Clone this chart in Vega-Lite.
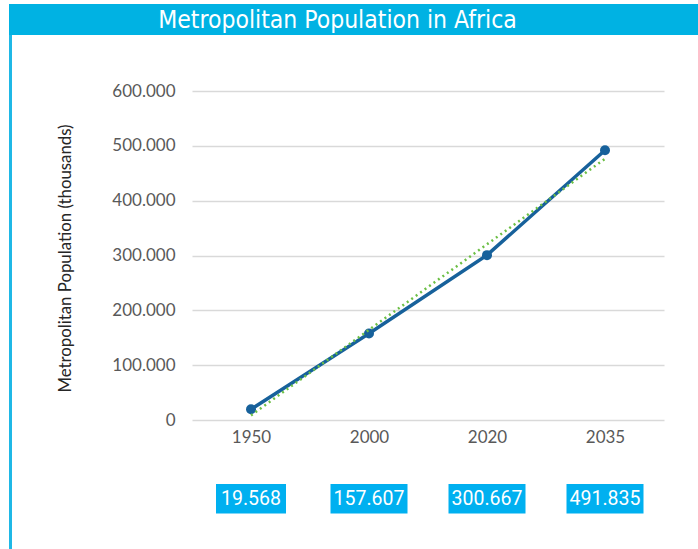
{
  "$schema": "https://vega.github.io/schema/vega-lite/v6.json",
  "padding": {"left": 7, "top": 4, "right": 0, "bottom": 0},
  "background": "white",
  "config": {
    "locale": {"number": {"decimal": ",", "thousands": ".", "grouping": [3], "currency": ["", " €"]}},
    "view": {"stroke": null},
    "concat": {"spacing": 0}
  },
  "datasets": {
    "pop": [
      {"year": "1950", "value": 19568},
      {"year": "2000", "value": 157607},
      {"year": "2020", "value": 300667},
      {"year": "2035", "value": 491835}
    ]
  },
  "bounds": "flush",
  "spacing": 0,
  "vconcat": [
    {
      "width": 691,
      "height": 31,
      "view": {"fill": "#00B2E3", "stroke": null},
      "data": {"values": [{"t": "Metropolitan Population in Africa"}]},
      "mark": {"type": "text", "color": "white", "font": "'DejaVu Sans Condensed', Roboto", "fontSize": 24.5, "baseline": "middle", "dy": 1, "dx": -17},
      "encoding": {"text": {"field": "t"}}
    },
    {
      "bounds": "flush",
      "spacing": 180,
      "hconcat": [
        {
          "width": 3,
          "height": 514,
          "view": {"fill": "#1FB8E6", "stroke": null},
          "data": {"values": [{}]},
          "mark": {"type": "point", "opacity": 0},
          "encoding": {}
        },
        {
          "width": 472,
          "height": 514,
          "data": {"name": "pop"},
          "resolve": {"scale": {"x": "independent"}},
          "layer": [
            {
              "mark": {"type": "line", "color": "#17619B", "strokeWidth": 3.5, "interpolate": "linear"},
              "encoding": {
                "x": {"field": "year", "type": "ordinal", "scale": {"type": "point", "padding": 0.5},
                  "axis": {"title": null, "orient": "bottom", "offset": -129, "domain": false, "ticks": false, "labelPadding": 9, "labelFont": "Lato", "labelFontSize": 17, "labelColor": "#595959", "labelAngle": 0, "grid": false}},
                "y": {"field": "value", "type": "quantitative", "scale": {"domain": [-235258, 702128], "nice": false, "zero": false},
                  "axis": {"title": "Metropolitan Population (thousands)", "values": [0, 100000, 200000, 300000, 400000, 500000, 600000], "format": ",d", "domain": false, "ticks": false, "labelPadding": 17, "labelFont": "Lato", "labelFontSize": 17, "labelColor": "#595959", "grid": true, "gridColor": "#D9D9D9", "gridWidth": 1.5, "titleFont": "Lato", "titleFontSize": 16.8, "titleFontWeight": "normal", "titleColor": "#262626", "titleX": -127, "titleY": 223, "titleAngle": -90, "titleAlign": "center", "titleBaseline": "middle"}}
              }
            },
            {
              "mark": {"type": "point", "filled": true, "color": "#17619B", "size": 100, "opacity": 1},
              "encoding": {
                "x": {"field": "year", "type": "ordinal", "scale": {"type": "point", "padding": 0.5}, "axis": null},
                "y": {"field": "value", "type": "quantitative"}
              }
            },
            {
              "transform": [
                {"window": [{"op": "row_number", "as": "i"}], "sort": [{"field": "year"}]},
                {"regression": "value", "on": "i", "method": "linear"}
              ],
              "mark": {"type": "line", "color": "#6CBF45", "strokeWidth": 2.5, "strokeDash": [2, 3.5]},
              "encoding": {
                "x": {"field": "i", "type": "quantitative", "scale": {"domain": [0.5, 4.5], "nice": false, "zero": false}, "axis": null},
                "y": {"field": "value", "type": "quantitative"}
              }
            },
            {
              "mark": {"type": "bar", "color": "#00B0F0"},
              "encoding": {
                "x": {"field": "year", "type": "ordinal", "scale": {"type": "point", "padding": 0.5}, "axis": null},
                "y": {"datum": -116717},
                "y2": {"datum": -170517},
                "size": {"condition": {"test": "datum.value < 100000", "value": 70}, "value": 77}
              }
            },
            {
              "mark": {"type": "text", "color": "white", "font": "Roboto", "fontSize": 19.5, "baseline": "middle"},
              "encoding": {
                "x": {"field": "year", "type": "ordinal", "scale": {"type": "point", "padding": 0.5}, "axis": null},
                "y": {"datum": -144073},
                "text": {"field": "value", "type": "quantitative", "format": ",d"}
              }
            }
          ]
        }
      ]
    }
  ]
}
